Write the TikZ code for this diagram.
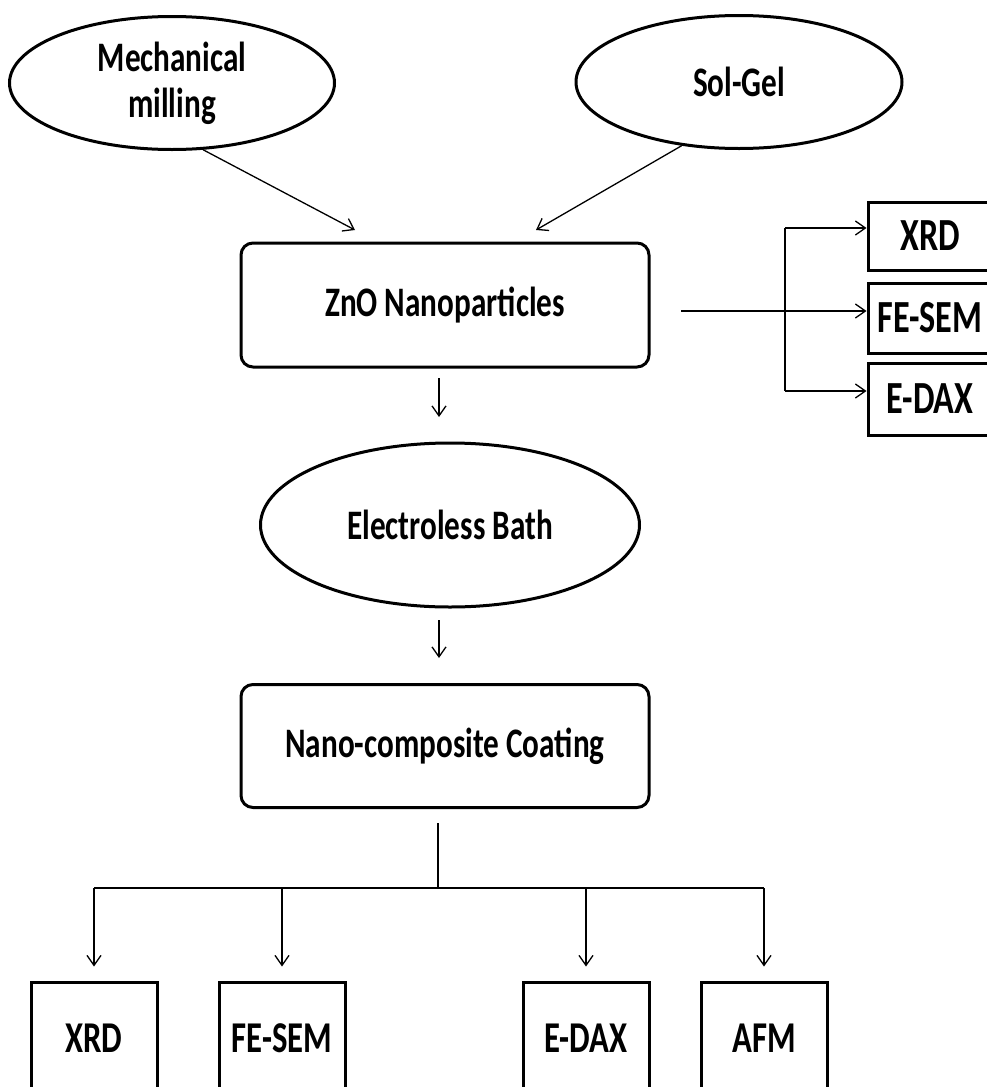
\documentclass[tikz,border=0pt]{standalone}
\usepackage{fontspec}
\setmainfont{Carlito}[FakeStretch=0.743]
\usetikzlibrary{shapes.geometric,arrows.meta}

\tikzset{
  oval/.style={ellipse, draw, line width=1.5pt, align=center, inner sep=0pt},
  roundbox/.style={rectangle, rounded corners=6pt, draw, line width=1.5pt, minimum width=204pt, minimum height=62pt},
  testbox/.style={rectangle, draw, line width=1.5pt, inner sep=0pt},
  link/.style={line width=0.65pt},
}

\begin{document}
\begin{tikzpicture}[x=0.5pt, y=-0.5pt, >={Straight Barb[length=5pt,width=7pt]},
  font=\bfseries\fontsize{21}{23}\selectfont]

\useasboundingbox (0,0) rectangle (986,1087);

% Synthesis routes
\node[oval, minimum width=162.5pt, minimum height=66.5pt] (mech) at (172,83) {Mechanical\\milling};
\node[oval, minimum width=163pt, minimum height=66.5pt] (solgel) at (739,82) {Sol-Gel};

% Main steps
\node[roundbox] (zno) at (445,305) {ZnO Nanoparticles};
\node[oval, minimum width=189.5pt, minimum height=82pt] (bath) at (450,525) {Electroless Bath};
\node[roundbox, minimum height=61.5pt] (nano) at (445,746) {Nano-composite Coating};

% Characterisation of the powder
\node[testbox, minimum width=62pt, minimum height=34pt, font=\bfseries\fontsize{23}{23}\selectfont] (xrdr) at (930,236) {XRD};
\node[testbox, minimum width=62pt, minimum height=35pt, font=\bfseries\fontsize{23}{23}\selectfont] (fesemr) at (930,318) {FE-SEM};
\node[testbox, minimum width=62pt, minimum height=36pt, font=\bfseries\fontsize{23}{23}\selectfont] (edaxr) at (930,399) {E-DAX};

% Characterisation of the coating
\node[testbox, minimum width=63pt, minimum height=56pt, font=\bfseries\fontsize{22}{22}\selectfont] (xrdb) at (94,1038) {XRD};
\node[testbox, minimum width=63pt, minimum height=56pt, font=\bfseries\fontsize{22}{22}\selectfont] (fesemb) at (282,1038) {FE-SEM};
\node[testbox, minimum width=63pt, minimum height=56pt, font=\bfseries\fontsize{22}{22}\selectfont] (edaxb) at (586,1038) {E-DAX};
\node[testbox, minimum width=63pt, minimum height=56pt, font=\bfseries\fontsize{22}{22}\selectfont] (afmb) at (764,1038) {AFM};

% Free ends of the arrows
\coordinate (zin1) at (355,230);
\coordinate (zin2) at (536,230);
\coordinate (a1) at (439,378);
\coordinate (a2) at (439,417);
\coordinate (a3) at (439,620);
\coordinate (a4) at (439,658);
\coordinate (hstart) at (681,311);
\coordinate (vtop) at (785,228);
\coordinate (vbot) at (785,391);
\coordinate (split) at (438,888);

% Arrows
\draw[link, ->] (mech.-65) -- (zin1);
\draw[link, ->] (solgel.-132) -- (zin2);
\draw[link, ->] (a1) -- (a2);
\draw[link, ->] (a3) -- (a4);

\draw[link, ->] (hstart) -- (hstart -| fesemr.west);
\draw[link] (vtop) -- (vbot);
\draw[link, ->] (vtop) -- (vtop -| xrdr.west);
\draw[link, ->] (vbot) -- (vbot -| edaxr.west);

\draw[link, shorten <=7pt] (nano.south -| split) -- (split);
\draw[link] (split -| xrdb) -- (split -| afmb);
\foreach \t in {xrdb, fesemb, edaxb, afmb}
  \draw[link, ->, shorten >=7pt] (split -| \t.north) -- (\t.north);

\end{tikzpicture}
\end{document}
